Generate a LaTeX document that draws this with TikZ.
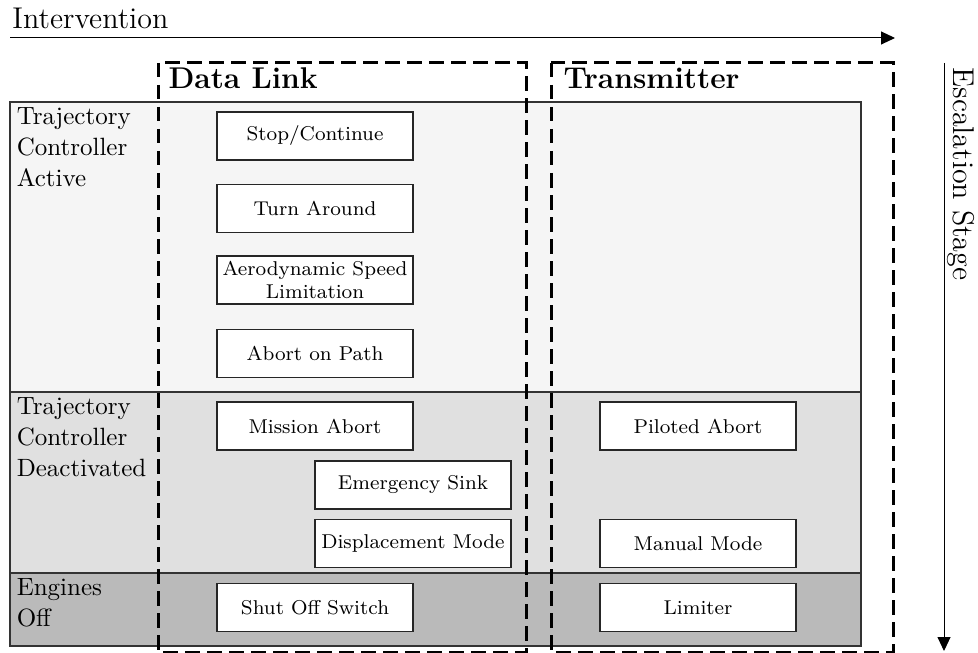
\documentclass[tikz,border=0pt]{standalone}
\usetikzlibrary{arrows.meta}
\begin{document}
\begin{tikzpicture}[x=0.4pt,y=-0.4pt]
    \tikzstyle{arrow} = [line width=0.4pt,-{Triangle[length=5.6pt,width=5.2pt]}]
    \tikzstyle{stage} = [draw=black!80, line width=0.6pt]
    \tikzstyle{channel} = [line width=1.2pt, dash pattern=on 5.8pt off 3pt]
    \tikzstyle{rowlabel} = [anchor=north west, inner sep=2.5pt, align=left, font={\fontsize{10}{12.4}\selectfont}]
    \tikzstyle{title} = [anchor=base west, inner sep=0pt, font=\large\bfseries]
    \tikzstyle{mode} = [draw=black!85, line width=0.5pt, fill=white, minimum width=78.4pt, minimum height=19.2pt, align=center, font=\footnotesize, inner sep=1pt]
    \def \dl{315}
    \def \dlshift{413}
    \def \tx{698}
    \useasboundingbox (0,0) rectangle (978,652);

    % escalation stages
    \draw[stage, fill=black!4] (10,102) rectangle (861,392);
    \draw[stage, fill=black!12] (10,392) rectangle (861,573);
    \draw[stage, fill=black!27] (10,573) rectangle (861,646);
    \node[rowlabel] (active) at (10,101) {Trajectory\\Controller\\Active};
    \node[rowlabel] (deact) at (10,391) {Trajectory\\Controller\\Deactivated};
    \node[rowlabel] (off) at (10,572) {Engines\\Off};

    % intervention channels
    \draw[channel] (158,63) rectangle (526,652);
    \draw[channel] (551,63) rectangle (893,652);
    \node[title] (dlink) at (168,89) {Data Link};
    \node[title] (trans) at (563,89) {Transmitter};

    % data link
    \node[mode] (stop) at (\dl,136) {Stop/Continue};
    \node[mode] (turn) at (\dl,208.5) {Turn Around};
    \node[mode] (aero) at (\dl,280) {Aerodynamic Speed\\Limitation};
    \node[mode] (path) at (\dl,353.5) {Abort on Path};
    \node[mode] (mission) at (\dl,426) {Mission Abort};
    \node[mode] (sink) at (\dlshift,485) {Emergency Sink};
    \node[mode] (displ) at (\dlshift,543.5) {Displacement Mode};
    \node[mode] (shut) at (\dl,607.5) {Shut Off Switch};

    % transmitter
    \node[mode] (piloted) at (\tx,426) {Piloted Abort};
    \node[mode] (manual) at (\tx,543.5) {Manual Mode};
    \node[mode] (limiter) at (\tx,607.5) {Limiter};

    % axes
    \coordinate (int0) at (10,38);
    \coordinate (int1) at (895,38);
    \draw[arrow] (int0) -- (int1);
    \node[anchor=base west, inner sep=0pt, font=\large] (intv) at (12,29) {Intervention};
    \coordinate (esc0) at (944,63);
    \coordinate (esc1) at (944,651);
    \draw[arrow] (esc0) -- (esc1);
    \node[rotate=-90, anchor=base west, inner sep=0pt, font=\large] (escl) at (953,67) {Escalation Stage};
\end{tikzpicture}
\end{document}
